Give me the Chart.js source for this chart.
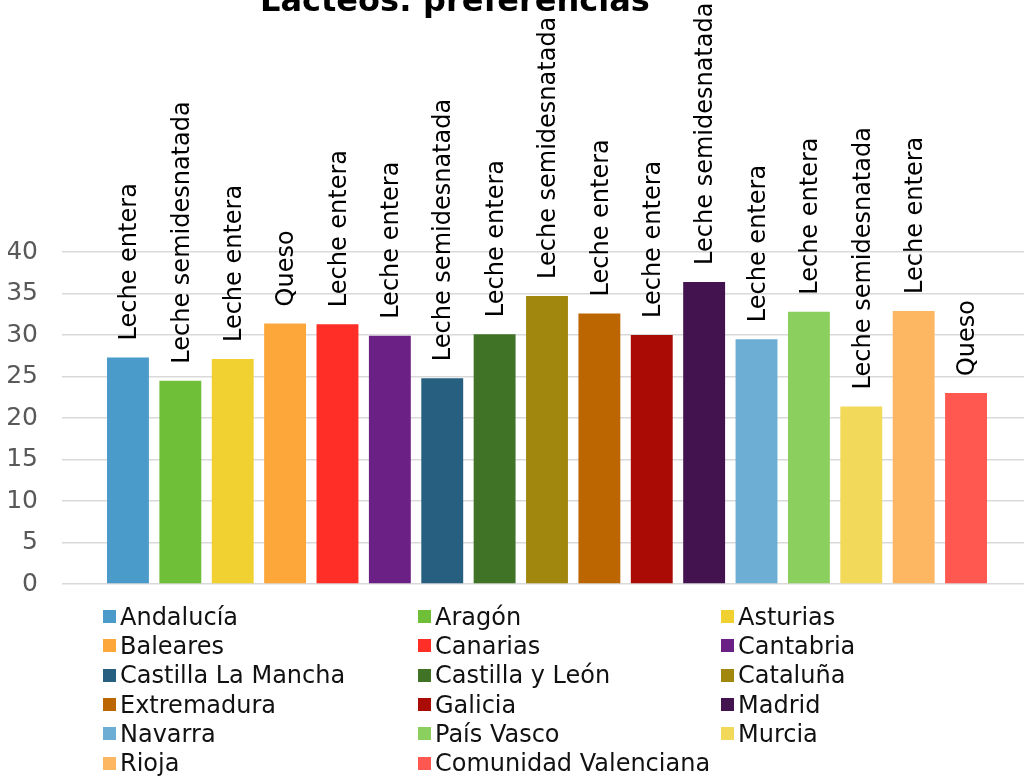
<!DOCTYPE html>
<html lang="es">
<head>
<meta charset="utf-8">
<title>Lácteos: preferencias</title>
<script src="https://cdn.jsdelivr.net/npm/chart.js@4/dist/chart.umd.min.js"></script>
<style>
  html, body { margin: 0; padding: 0; background: #fff; overflow: hidden; }
  #wrap { position: relative; width: 1032px; height: 778px; }
  #legend {
    position: absolute; left: 103px; top: 602px;
    display: grid; grid-template-columns: 315px 303px 300px;
    font-family: "DejaVu Sans", sans-serif; font-size: 24px; color: #111;
  }
  #legend .item { display: flex; align-items: center; height: 29.3px; white-space: nowrap; }
  #legend .box { width: 13px; height: 13px; margin-right: 4px; flex: none; }
</style>
</head>
<body>
<div id="wrap">
  <canvas id="chart"></canvas>
  <div id="legend"></div>
</div>
<script>
const chartTitle = 'Lácteos: preferencias';

const regions = [
  'Andalucía', 'Aragón', 'Asturias', 'Baleares', 'Canarias', 'Cantabria',
  'Castilla La Mancha', 'Castilla y León', 'Cataluña', 'Extremadura', 'Galicia',
  'Madrid', 'Navarra', 'País Vasco', 'Murcia', 'Rioja', 'Comunidad Valenciana'
];

const values = [
  27.3, 24.5, 27.1, 31.4, 31.3, 29.9, 24.8, 30.1, 34.7,
  32.6, 30.0, 36.4, 29.5, 32.8, 21.4, 32.9, 23.0
];

const favourites = [
  'Leche entera', 'Leche semidesnatada', 'Leche entera', 'Queso', 'Leche entera',
  'Leche entera', 'Leche semidesnatada', 'Leche entera', 'Leche semidesnatada',
  'Leche entera', 'Leche entera', 'Leche semidesnatada', 'Leche entera',
  'Leche entera', 'Leche semidesnatada', 'Leche entera', 'Queso'
];

const colors = [
  '#4a9bc9', '#70bf39', '#f0d131', '#fda63a', '#ff2e26', '#6b2085',
  '#265f80', '#417326', '#a2870f', '#bb6600', '#ab0b05', '#431350',
  '#6daed4', '#8bd05e', '#f2d95a', '#fdb762', '#ff5850'
];

const yTicks = { min: 0, max: 40, step: 5 };

// Vertical text above every bar, taken from the dataset's own label list.
const barTextPlugin = {
  id: 'barText',
  afterDatasetsDraw(chart) {
    const ctx = chart.ctx;
    ctx.save();
    ctx.font = '24px "DejaVu Sans", sans-serif';
    ctx.fillStyle = '#000';
    ctx.textAlign = 'left';
    ctx.textBaseline = 'middle';
    chart.data.datasets.forEach((ds, i) => {
      const bar = chart.getDatasetMeta(i).data[0];
      if (!bar) return;
      ctx.save();
      ctx.translate(bar.x + 2, bar.y - 17);
      ctx.rotate(-Math.PI / 2);
      ctx.fillText(ds.topText, 0, 0);
      ctx.restore();
    });
    ctx.restore();
  }
};

// Chart heading, drawn near the top edge of the canvas.
const headingPlugin = {
  id: 'heading',
  afterDraw(chart) {
    const ctx = chart.ctx;
    ctx.save();
    ctx.font = 'bold 32px "DejaVu Sans", sans-serif';
    ctx.fillStyle = '#000';
    ctx.textAlign = 'center';
    ctx.textBaseline = 'alphabetic';
    ctx.fillText(chartTitle, 455, 11);
    ctx.restore();
  }
};

const datasets = regions.map((name, i) => ({
  label: name,
  data: [values[i]],
  topText: favourites[i],
  backgroundColor: colors[i],
  borderWidth: 0,
  categoryPercentage: 0.918,
  barPercentage: 0.8
}));

const chart = new Chart(document.getElementById('chart'), {
  type: 'bar',
  data: { labels: [''], datasets },
  options: {
    responsive: true,
    maintainAspectRatio: false,
    animation: false,
    layout: { padding: { top: 252, bottom: 194, left: 8, right: 0 } },
    plugins: {
      legend: { display: false },
      title: { display: false },
      tooltip: { enabled: false }
    },
    scales: {
      x: { display: false },
      y: {
        min: yTicks.min,
        max: yTicks.max,
        border: { display: false },
        grid: { color: '#d9d9d9', lineWidth: 1.5, drawTicks: false },
        afterFit(scale) { scale.width = 54; },
        ticks: {
          stepSize: yTicks.step,
          padding: 24,
          color: '#595959',
          font: { family: '"DejaVu Sans", sans-serif', size: 25 }
        }
      }
    }
  },
  plugins: [barTextPlugin, headingPlugin]
});

// HTML legend in three columns, built from the chart's datasets.
const legendEl = document.getElementById('legend');
chart.data.datasets.forEach(ds => {
  const item = document.createElement('div');
  item.className = 'item';
  const box = document.createElement('span');
  box.className = 'box';
  box.style.background = ds.backgroundColor;
  const txt = document.createElement('span');
  txt.textContent = ds.label;
  item.appendChild(box);
  item.appendChild(txt);
  legendEl.appendChild(item);
});
</script>
</body>
</html>
